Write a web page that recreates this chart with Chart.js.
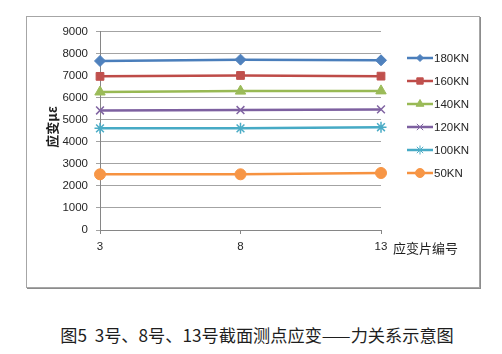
<!DOCTYPE html>
<html>
<head>
<meta charset="utf-8">
<script src="https://cdn.jsdelivr.net/npm/chart.js@4.4.1/dist/chart.umd.min.js"></script>
<style>
    html, body { margin: 0; padding: 0; background: #fff; }
    body { width: 502px; height: 354px; position: relative; overflow: hidden; }
    #frame {
        position: absolute; left: 26px; top: 16px;
        width: 452px; height: 270px;
        border: 1px solid #a6a6a6;
        box-shadow: 1px 1px 0 #8c8c8c;
    }
    #frame canvas { display: block; }
    #caption {
        position: absolute; left: 0; width: 514px; top: 325px;
        text-align: center;
        font-family: "Noto Sans CJK SC", sans-serif;
        font-size: 17.2px; color: #1e1e1e; line-height: 20px;
    }
</style>
</head>
<body>
<div id="frame"><canvas id="strainChart" width="452" height="270"></canvas></div>
<div id="caption">图5&nbsp;&nbsp;3号、8号、13号截面测点应变——力关系示意图</div>
<script>
/**
 * 数据：应变片编号与各级荷载下的应变值 (με)
 */
const categories = ['3', '8', '13'];
const seriesNames = ['180KN', '160KN', '140KN', '120KN', '100KN', '50KN'];
const strain180 = [7680, 7740, 7710];
const strain160 = [6980, 7020, 6990];
const strain140 = [6270, 6310, 6320];
const strain120 = [5430, 5450, 5480];
const strain100 = [4620, 4620, 4670];
const strain50 = [2530, 2530, 2590];
const yTicksMin = 0;
const yTicksMax = 9000;
const yTicksStep = 1000;

const yTitle = '应变με';
const xTitle = '应变片编号';

/**
 * 系列样式
 */
const SERIES_STYLE = [
    { line: '#4A7EBB', fill: '#4F81BD', style: 'rectRot', r: 5.5, lr: 3.5 },
    { line: '#BE4B48', fill: '#C0504D', style: 'rect', r: 5.5, lr: 4.5 },
    { line: '#98B954', fill: '#9BBB59', style: 'triangle', r: 6, lr: 4.5 },
    { line: '#7D60A0', fill: '#8064A2', style: 'crossRot', r: 5.5, lr: 4.5 },
    { line: '#46AAC5', fill: '#4BACC6', style: 'star', r: 5.5, lr: 4.5 },
    { line: '#F69240', fill: '#F79646', style: 'circle', r: 5.5, lr: 4.5 }
];

const seriesValues = [strain180, strain160, strain140, strain120, strain100, strain50];

const datasets = seriesNames.map((name, i) => {
    const s = SERIES_STYLE[i];
    return {
        label: name,
        data: seriesValues[i],
        borderColor: s.line,
        backgroundColor: s.fill,
        borderWidth: 2.5,
        pointStyle: s.style,
        pointRadius: s.r,
        pointBackgroundColor: s.fill,
        pointBorderColor: s.fill,
        pointBorderWidth: (s.style === 'crossRot' || s.style === 'star') ? 1.5 : 1,
        tension: 0,
        fill: false
    };
});

const TICK_FONT = { family: '"Liberation Sans", Arial, sans-serif', size: 11.5 };

/**
 * 右侧图例和坐标轴标题（Excel 风格）
 */
const excelDecor = {
    id: 'excelDecor',
    afterDraw(chart) {
        const ctx = chart.ctx;
        const area = chart.chartArea;
        ctx.save();

        // y 轴标题
        ctx.fillStyle = '#1e1e1e';
        ctx.font = 'bold 13px "Noto Sans CJK SC", sans-serif';
        ctx.translate(25, (area.top + area.bottom) / 2 - 4);
        ctx.rotate(-Math.PI / 2);
        ctx.textAlign = 'center';
        ctx.textBaseline = 'middle';
        ctx.fillText(yTitle, 0, 0);
        ctx.setTransform(1, 0, 0, 1, 0, 0);

        // x 轴标题
        const xScale = chart.scales.x;
        const lastX = xScale.getPixelForTick(categories.length - 1);
        ctx.font = '13px "Noto Sans CJK SC", sans-serif';
        ctx.textAlign = 'left';
        ctx.textBaseline = 'middle';
        ctx.fillText(xTitle, lastX + 12, area.bottom + 18.5);

        // 图例
        const lx0 = 380, lx1 = 406, ly0 = 41, step = 23;
        chart.data.datasets.forEach((ds, i) => {
            const s = SERIES_STYLE[i];
            const y = ly0 + i * step;
            ctx.strokeStyle = s.line;
            ctx.lineWidth = 2.5;
            ctx.beginPath();
            ctx.moveTo(lx0, y);
            ctx.lineTo(lx1, y);
            ctx.stroke();
            ctx.fillStyle = s.fill;
            ctx.strokeStyle = s.fill;
            ctx.lineWidth = 1;
            Chart.helpers.drawPoint(ctx, { pointStyle: s.style, rotation: 0, radius: s.lr, borderWidth: 1 }, (lx0 + lx1) / 2, y);
            ctx.fillStyle = '#262626';
            ctx.font = '11.5px "Liberation Sans", Arial, sans-serif';
            ctx.textAlign = 'left';
            ctx.textBaseline = 'middle';
            ctx.fillText(ds.label, lx1 + 1, y + 0.5);
        });
        ctx.restore();
    }
};

const chart = new Chart(document.getElementById('strainChart'), {
    type: 'line',
    data: { labels: categories, datasets },
    options: {
        responsive: false,
        animation: false,
        devicePixelRatio: 1,
        layout: { padding: { left: 0, top: 14, right: 98, bottom: 0 } },
        plugins: {
            legend: { display: false },
            tooltip: { enabled: false }
        },
        scales: {
            x: {
                type: 'category',
                offset: false,
                afterFit(scale) { scale.height = 57; },
                grid: {
                    drawOnChartArea: false,
                    drawTicks: true,
                    tickLength: 4,
                    color: '#868686'
                },
                border: { color: '#868686', width: 1 },
                ticks: { color: '#262626', font: TICK_FONT, padding: 6, maxRotation: 0 }
            },
            y: {
                min: yTicksMin,
                max: yTicksMax,
                afterFit(scale) { scale.width = 73; },
                grid: {
                    color: '#a3a3a3',
                    lineWidth: 1,
                    tickLength: 4,
                    drawTicks: true
                },
                border: { color: '#868686', width: 1 },
                ticks: {
                    stepSize: yTicksStep,
                    color: '#262626',
                    font: TICK_FONT,
                    padding: 8,
                    callback: value => String(value)
                }
            }
        }
    },
    plugins: [excelDecor]
});
</script>
</body>
</html>
